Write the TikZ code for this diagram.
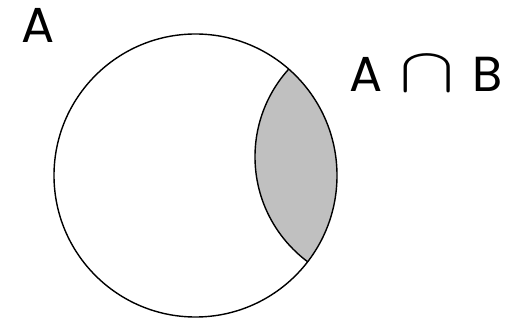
\documentclass[tikz,border=0pt]{standalone}
\usepackage{fontspec}
\setmainfont{Poppins}
\usetikzlibrary{positioning}
\definecolor{lensgray}{RGB}{192,192,192}

\begin{document}
\begin{tikzpicture}[
    x=0.02cm, y=-0.02cm,
    every node/.style={font=\fontsize{28}{30}\selectfont, inner sep=0pt, anchor=base},
    setline/.style={draw=black, line width=0.8pt},
]
    \useasboundingbox (0,0) rectangle (513,320);

    \coordinate (cA) at (195.5,175.5);
    \coordinate (cB) at (385.9,156.8);

    % shaded part of B inside A
    \begin{scope}
        \clip (cA) circle (141.5);
        \fill[lensgray] (cB) circle (130.9);
        \draw[setline] (cB) circle (130.9);
    \end{scope}
    \draw[setline] (cA) circle (141.5);

    \node (labA) at (38.5,43) {A};
    \node (labAB) at (426,92) {A\hspace{0.35em}\scalebox{1.9}[1.45]{$\cap$}\hspace{0.35em}B};
\end{tikzpicture}
\end{document}
